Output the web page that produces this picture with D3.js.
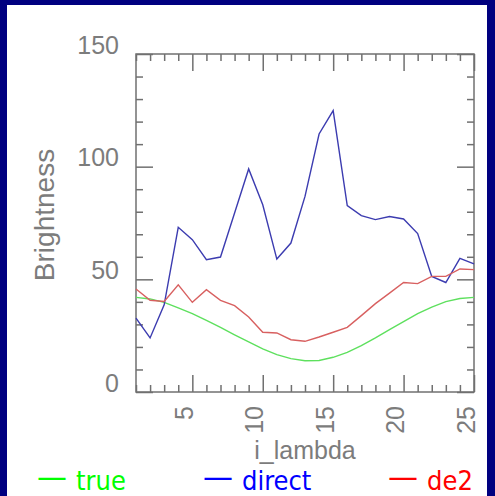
<!DOCTYPE html>
<html>
<head>
<meta charset="utf-8">
<script src="https://cdn.jsdelivr.net/npm/d3@7"></script>
<style>
  body { margin: 0; background: #000080; }
  svg { display: block; }
</style>
</head>
<body>
<div id="chart"></div>
<script>
// Data
var lambdaIdx = d3.range(1, 26); // 1..25
var trueVals = [42.0, 41.3, 39.8, 37.3, 34.8, 31.8, 28.7, 25.4, 22.2, 19.1, 16.6, 14.8, 13.9,
                14.0, 15.4, 17.6, 20.6, 24.0, 27.7, 31.2, 34.8, 37.7, 40.1, 41.5, 42.0];
var directVals = [32.8, 24.0, 38.7, 73.1, 67.6, 58.7, 59.9, 79.4, 99.0, 83.1, 59.0, 66.1, 86.8,
                  114.5, 124.9, 82.7, 78.3, 76.5, 77.9, 76.8, 70.3, 51.3, 48.6, 59.3, 56.9];
var de2Vals = [45.7, 40.7, 40.2, 47.6, 39.8, 45.4, 40.7, 38.3, 33.3, 26.5, 26.2, 23.2, 22.5,
               24.4, 26.5, 28.7, 33.9, 39.2, 43.9, 48.6, 48.1, 51.3, 51.3, 54.6, 54.3];
var xMajor = [5, 10, 15, 20, 25];
var yMajor = [0, 50, 100, 150];
var legendNames = ["true", "direct", "de2"];

// Dimensions
var outerWidth = 495;
var outerHeight = 496;
var plotLeft = 136, plotRight = 474, plotTop = 54, plotBottom = 392;

var axisColor = "#707070";
var labelColor = "#7c7c7c";
var axisFont = "'Liberation Sans', Arial, sans-serif";

var svg = d3.select("#chart").append("svg")
  .attr("width", outerWidth)
  .attr("height", outerHeight);

// dark blue frame + white page
svg.append("rect").attr("width", outerWidth).attr("height", outerHeight).attr("fill", "#000080");
svg.append("rect").attr("x", 7).attr("y", 5).attr("width", 480).attr("height", 491).attr("fill", "#ffffff");

var xScale = d3.scaleLinear().domain([1, 25]).range([plotLeft, plotRight]);
var yScale = d3.scaleLinear().domain([0, 150]).range([plotBottom, plotTop]);

// tick marks on all four sides, pointing inward
function tickAxis(axisFn, scale, values, size, transform) {
  var g = svg.append("g").attr("transform", transform)
    .call(axisFn(scale).tickValues(values).tickSize(-size).tickSizeOuter(0).tickFormat(""));
  g.select(".domain").remove();
  g.selectAll("line").attr("stroke", axisColor).attr("stroke-width", 1.5);
}
var xMinor = lambdaIdx.filter(function(d) { return d % 5 !== 0; });
var yMinor = d3.range(10, 150, 10).filter(function(d) { return d % 50 !== 0; });

tickAxis(d3.axisBottom, xScale, xMajor, 17, "translate(0," + plotBottom + ")");
tickAxis(d3.axisBottom, xScale, xMinor, 7, "translate(0," + plotBottom + ")");
tickAxis(d3.axisTop, xScale, xMajor, 17, "translate(0," + plotTop + ")");
tickAxis(d3.axisTop, xScale, xMinor, 7, "translate(0," + plotTop + ")");
tickAxis(d3.axisLeft, yScale, yMajor, 17, "translate(" + plotLeft + ",0)");
tickAxis(d3.axisLeft, yScale, yMinor, 7, "translate(" + plotLeft + ",0)");
tickAxis(d3.axisRight, yScale, yMajor, 17, "translate(" + plotRight + ",0)");
tickAxis(d3.axisRight, yScale, yMinor, 7, "translate(" + plotRight + ",0)");

// frame
svg.append("rect")
  .attr("x", plotLeft).attr("y", plotTop)
  .attr("width", plotRight - plotLeft).attr("height", plotBottom - plotTop)
  .attr("fill", "none").attr("stroke", axisColor).attr("stroke-width", 1.5);

// y tick labels (bottom of the digits sits on the tick)
var yLab = svg.append("g").attr("transform", "translate(" + plotLeft + ",0)")
  .call(d3.axisLeft(yScale).tickValues(yMajor).tickSize(0).tickPadding(17));
yLab.select(".domain").remove();
yLab.selectAll("text")
  .attr("dy", "-1")
  .attr("font-family", axisFont).attr("font-size", 25)
  .attr("fill", labelColor);

// x tick labels, rotated
var xLab = svg.append("g").attr("transform", "translate(0," + plotBottom + ")")
  .call(d3.axisBottom(xScale).tickValues(xMajor).tickSize(0));
xLab.select(".domain").remove();
xLab.selectAll("text")
  .attr("y", 0).attr("dy", 0)
  .attr("transform", "translate(0,14) rotate(-90)")
  .attr("text-anchor", "end")
  .attr("font-family", axisFont).attr("font-size", 25)
  .attr("fill", labelColor);

// axis titles
svg.append("text")
  .attr("transform", "translate(54,215) rotate(-90)")
  .attr("text-anchor", "middle")
  .attr("font-family", axisFont).attr("font-size", 28)
  .attr("fill", labelColor)
  .text("Brightness");

svg.append("text")
  .attr("x", (plotLeft + plotRight) / 2).attr("y", 459)
  .attr("text-anchor", "middle")
  .attr("font-family", axisFont).attr("font-size", 25)
  .attr("fill", labelColor)
  .text("i_lambda");

// lines
var series = [
  { name: "true", values: trueVals, color: "#5ee05e" },
  { name: "direct", values: directVals, color: "#3c3cb0" },
  { name: "de2", values: de2Vals, color: "#d86060" }
];
var line = d3.line()
  .x(function(d, i) { return xScale(lambdaIdx[i]); })
  .y(function(d) { return yScale(d); });

svg.append("g").selectAll("path").data(series).enter().append("path")
  .attr("d", function(s) { return line(s.values); })
  .attr("fill", "none")
  .attr("stroke", function(s) { return s.color; })
  .attr("stroke-width", 1.4);

// legend
var legendColors = ["#00ff00", "#0000ff", "#ff0000"];
var legendDashX = [37, 203, 388];
var legendTextX = [76, 242, 427];
var leg = svg.append("g").selectAll("text").data(legendNames).enter().append("text")
  .attr("y", 490)
  .attr("font-family", "'DejaVu Sans Condensed', 'DejaVu Sans', sans-serif")
  .attr("font-size", 27)
  .attr("fill", function(d, i) { return legendColors[i]; });
leg.append("tspan")
  .attr("x", function(d, i) { return legendDashX[i]; })
  .attr("dy", -3)
  .attr("font-size", 30)
  .attr("textLength", 30)
  .attr("lengthAdjust", "spacingAndGlyphs")
  .text("—");
leg.append("tspan")
  .attr("x", function(d, i) { return legendTextX[i]; })
  .attr("dy", 3)
  .text(function(d) { return d; });
</script>
</body>
</html>
